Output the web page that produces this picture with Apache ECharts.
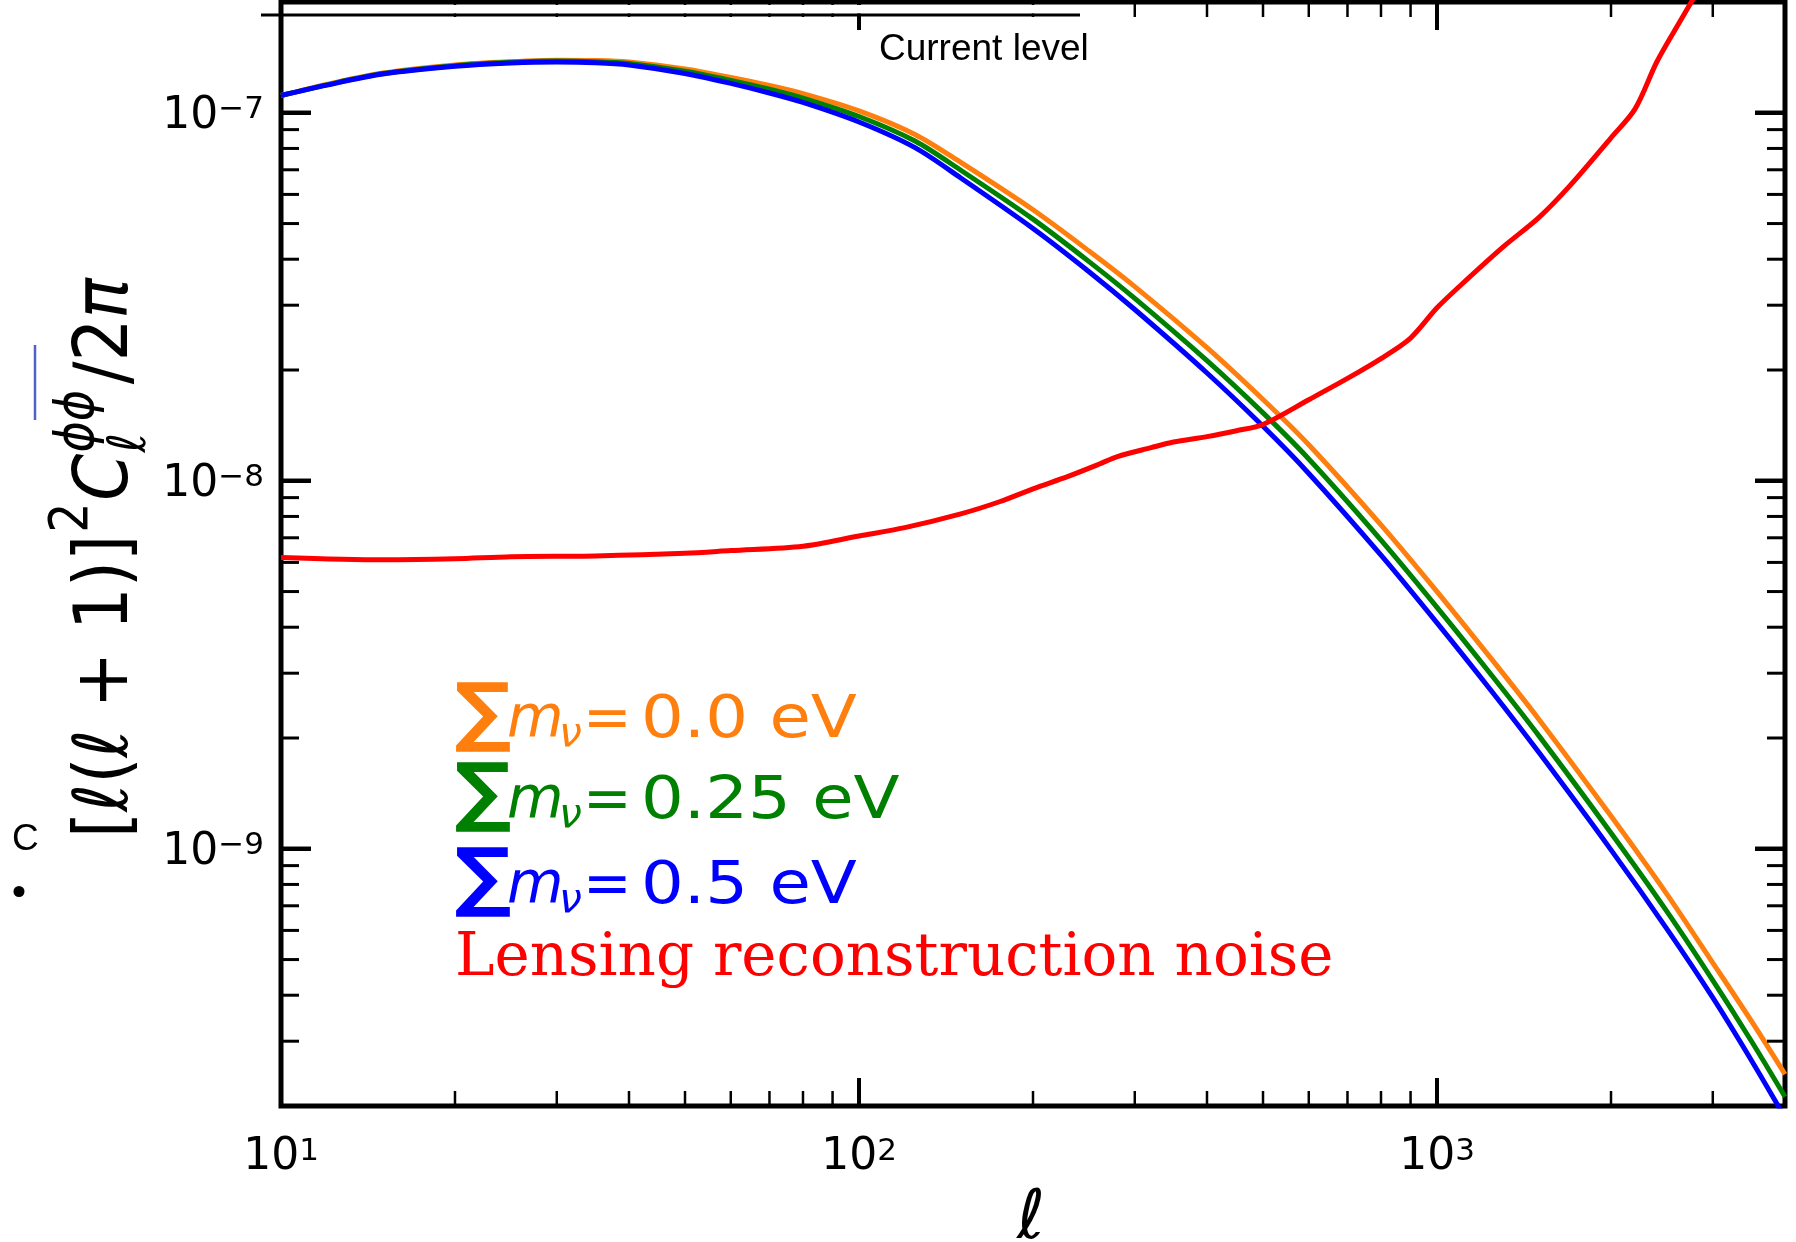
<!DOCTYPE html>
<html>
<head>
<meta charset="utf-8">
<title>Lensing potential power spectrum</title>
<script src="https://cdn.jsdelivr.net/npm/echarts@6.0.0/dist/echarts.min.js"></script>
<style>
  html, body { margin: 0; padding: 0; background: #fff; }
  #chart { width: 1796px; height: 1242px; }
</style>
</head>
<body>
<div id="chart"></div>
<script>
// multipoles shared by the three neutrino-mass spectra
const ells = [10, 12, 15, 20, 25, 30, 35, 40, 50, 60, 70, 80, 100, 125, 150, 200, 250, 300, 400, 500, 600, 800, 1000, 1250, 1500, 2000, 2500, 3000, 3500, 4000];
// [l(l+1)]^2 C_l^phiphi / 2pi
const clMass00 = [1.114e-7, 1.194e-7, 1.282e-7, 1.349e-7, 1.377e-7, 1.390e-7, 1.387e-7, 1.374e-7, 1.315e-7, 1.247e-7, 1.186e-7, 1.127e-7, 1.012e-7, 8.73e-8, 7.33e-8, 5.45e-8, 4.21e-8, 3.37e-8, 2.30e-8, 1.663e-8, 1.253e-8, 7.59e-9, 5.00e-9, 3.24e-9, 2.25e-9, 1.227e-9, 7.52e-10, 4.90e-10, 3.40e-10, 2.44e-10];
const clMass025 = [1.114e-7, 1.191e-7, 1.278e-7, 1.343e-7, 1.371e-7, 1.382e-7, 1.377e-7, 1.361e-7, 1.297e-7, 1.225e-7, 1.159e-7, 1.096e-7, 9.77e-8, 8.38e-8, 6.98e-8, 5.14e-8, 3.94e-8, 3.13e-8, 2.12e-8, 1.529e-8, 1.146e-8, 6.90e-9, 4.53e-9, 2.93e-9, 2.03e-9, 1.104e-9, 6.75e-10, 4.39e-10, 3.00e-10, 2.12e-10];
const clMass05 = [1.114e-7, 1.189e-7, 1.274e-7, 1.337e-7, 1.365e-7, 1.374e-7, 1.368e-7, 1.349e-7, 1.279e-7, 1.202e-7, 1.132e-7, 1.067e-7, 9.44e-8, 8.04e-8, 6.65e-8, 4.85e-8, 3.70e-8, 2.92e-8, 1.963e-8, 1.406e-8, 1.047e-8, 6.28e-9, 4.11e-9, 2.65e-9, 1.828e-9, 9.93e-10, 6.05e-10, 3.94e-10, 2.66e-10, 1.86e-10];

// lensing reconstruction noise
const noiseElls = [10, 15, 20, 25, 35, 50, 60, 80, 100, 120, 150, 175, 200, 230, 260, 280, 320, 350, 400, 450, 500, 600, 700, 800, 900, 1000, 1100, 1300, 1500, 1700, 2000, 2200, 2400, 2600, 2800];
const noiseCl = [6.19e-9, 6.10e-9, 6.14e-9, 6.22e-9, 6.25e-9, 6.35e-9, 6.46e-9, 6.64e-9, 7.08e-9, 7.46e-9, 8.13e-9, 8.77e-9, 9.51e-9, 1.028e-8, 1.109e-8, 1.164e-8, 1.230e-8, 1.274e-8, 1.318e-8, 1.368e-8, 1.422e-8, 1.660e-8, 1.897e-8, 2.148e-8, 2.443e-8, 2.951e-8, 3.404e-8, 4.315e-8, 5.19e-8, 6.35e-8, 8.55e-8, 1.023e-7, 1.374e-7, 1.714e-7, 2.09e-7];

// axes
const xRange = [10, 4000];
const yRange = [2e-10, 2e-7];
const xMajorTicks = [10, 100, 1000];
const xMinorTicks = [20, 30, 40, 50, 60, 70, 80, 90, 200, 300, 400, 500, 600, 700, 800, 900, 2000, 3000];
const yMajorTicks = [1e-9, 1e-8, 1e-7];
const yMinorTicks = [3e-10, 4e-10, 5e-10, 6e-10, 7e-10, 8e-10, 9e-10, 2e-9, 3e-9, 4e-9, 5e-9, 6e-9, 7e-9, 8e-9, 9e-9, 2e-8, 3e-8, 4e-8, 5e-8, 6e-8, 7e-8, 8e-8, 9e-8];

const legendValues = ['0.0 eV', '0.25 eV', '0.5 eV'];
const colors = { m00: '#ff7f0e', m025: '#008000', m05: '#0000ff', noise: '#ff0000' };

// ---- text helpers (measure glyphs so sub/superscripts sit on the right baseline)
const mctx = document.createElement('canvas').getContext('2d');
function cssFont(size, family, italic, weight) {
  return (italic ? 'italic ' : 'normal ') + (weight || 'normal') + ' ' + size + 'px "' + family + '"';
}
function baseShift(font) {
  mctx.font = font;
  mctx.textBaseline = 'middle';
  return mctx.measureText('H').actualBoundingBoxDescent;
}
function textWidth(text, font) {
  mctx.font = font;
  mctx.textBaseline = 'alphabetic';
  return mctx.measureText(text).width;
}
function textEl(text, x, baseline, font, color, align) {
  return {
    type: 'text', x: x, y: baseline - baseShift(font), silent: true,
    style: { text: text, font: font, fill: color, align: align || 'left', verticalAlign: 'middle' }
  };
}
// lays out a run of pieces along a baseline, returns children and advance
function mathRun(parts, color) {
  const kids = [];
  let cursor = 0;
  const marks = {};
  parts.forEach((p) => {
    const font = cssFont(p.size, p.family || 'DejaVu Sans', p.italic, p.weight);
    const px = p.at != null ? marks[p.at] : cursor + (p.gap || 0);
    if (p.mark) marks[p.mark] = px;
    kids.push(textEl(p.t, px, p.dy || 0, font, p.color || color));
    const end = px + textWidth(p.t, font);
    cursor = p.keep ? Math.max(cursor, end) : end;
  });
  return { kids: kids, width: cursor };
}
// big summation sign fitted into a box
function fitGlyph(text, family, weight, left, top, w, h, color) {
  mctx.font = cssFont(100, family, false, weight);
  mctx.textBaseline = 'alphabetic';
  const m = mctx.measureText(text);
  const gh = m.actualBoundingBoxAscent + m.actualBoundingBoxDescent;
  const gw = m.actualBoundingBoxLeft + m.actualBoundingBoxRight;
  const k = h / gh;
  const font = cssFont(100 * k, family, false, weight);
  return {
    type: 'group', x: left, y: top + m.actualBoundingBoxAscent * k, scaleX: w / (gw * k), silent: true,
    children: [textEl(text, m.actualBoundingBoxLeft * k, 0, font, color)]
  };
}

function legendRow(value, color, baseline, sigmaTop) {
  const F = 58;
  const x0 = 456;
  return [
    fitGlyph('\u2211', 'DejaVu Sans', 'bold', x0, sigmaTop, 54, 70, color),
    { type: 'group', x: x0, y: baseline, silent: true, children: [
      textEl('m', 51, 0, cssFont(F, 'DejaVu Sans', true), color),
      textEl('\u03bd', 103, 9, cssFont(Math.round(F * 0.7), 'DejaVu Sans', true), color),
      textEl('=', 127, 0, cssFont(F, 'DejaVu Sans'), color)
    ] },
    // the value text is slightly wider in the figure than the font's natural width
    { type: 'group', x: x0 + 185, y: baseline, scaleX: 1.16, silent: true, children: [
      textEl(value, 0, 0, cssFont(F, 'DejaVu Sans'), color)
    ] }
  ];
}

// y-axis title, rotated, length fitted to the figure
function yTitle() {
  const F = 75;
  const s = Math.round(F * 0.7);
  const run = mathRun([
    { t: '[', size: F },
    { t: '\u2113', size: F, italic: true },
    { t: '(', size: F },
    { t: '\u2113', size: F, italic: true },
    { t: ' + 1)]', size: F },
    { t: '2', size: s, dy: -0.52 * F, gap: 2 },
    { t: 'C', size: F, italic: true, gap: 2 },
    { t: '\u03d5\u03d5', size: s, italic: true, dy: -0.46 * F, mark: 'sp', gap: 1 },
    { t: '\u2113', size: s, italic: true, dy: 0.24 * F, at: 'sp', keep: true },
    { t: '/2', size: F, gap: 6 },
    { t: '\u03c0', size: F, italic: true }
  ], '#000');
  const targetLen = 560;
  return {
    type: 'group', x: 127, y: 838, rotation: Math.PI / 2, scaleX: targetLen / run.width,
    children: run.kids, silent: true
  };
}

function powLabel(v) {
  const lg = Math.log10(v);
  const e = Math.round(lg);
  if (Math.abs(lg - e) > 1e-6) return '';
  return '{b|10}{s|' + String(e).replace('-', '\u2212') + '}';
}
const labelRich = {
  b: { fontSize: 44, lineHeight: 44, fontFamily: 'DejaVu Sans', color: '#000' },
  s: { fontSize: 31, lineHeight: 31, fontFamily: 'DejaVu Sans', color: '#000', verticalAlign: 'top' }
};

// inward ticks on both sides of the frame, placed through the axis scale
function tickSeries(values, dir, len, width) {
  return {
    type: 'custom',
    coordinateSystem: 'cartesian2d',
    silent: true,
    clip: false,
    z: 5,
    data: values.map((v) => (dir === 'x' ? [v, yRange[0]] : [xRange[0], v])),
    renderItem: (params, api) => {
      const cs = params.coordSys;
      const p = api.coord([api.value(0), api.value(1)]);
      const st = { stroke: '#000', lineWidth: width };
      if (dir === 'x') {
        const b = cs.y + cs.height;
        return { type: 'group', children: [
          { type: 'line', shape: { x1: p[0], y1: b, x2: p[0], y2: b - len }, style: st },
          { type: 'line', shape: { x1: p[0], y1: cs.y, x2: p[0], y2: cs.y + len }, style: st }
        ] };
      }
      const r = cs.x + cs.width;
      return { type: 'group', children: [
        { type: 'line', shape: { x1: cs.x, y1: p[1], x2: cs.x + len, y2: p[1] }, style: st },
        { type: 'line', shape: { x1: r, y1: p[1], x2: r - len, y2: p[1] }, style: st }
      ] };
    }
  };
}

function lineSeries(name, xs, ys, color) {
  return {
    name: name,
    type: 'line',
    data: xs.map((x, i) => [x, ys[i]]),
    showSymbol: false,
    symbol: 'none',
    smooth: 0.3,
    clip: true,
    z: 3,
    lineStyle: { color: color, width: 5 },
    emphasis: { disabled: true }
  };
}

const chart = echarts.init(document.getElementById('chart'), null, { renderer: 'canvas' });

const graphics = [];
// legend-like labels
graphics.push(...legendRow(legendValues[0], colors.m00, 737, 682));
graphics.push(...legendRow(legendValues[1], colors.m025, 818, 762));
graphics.push(...legendRow(legendValues[2], colors.m05, 903, 847));
graphics.push(textEl('Lensing reconstruction noise', 455, 975, cssFont(59.5, 'DejaVu Serif'), colors.noise));
// axis titles
graphics.push(yTitle());
graphics.push(textEl('\u2113', 1031, 1238, cssFont(68, 'DejaVu Sans', true), '#000', 'center'));
// "Current level" marker pasted over the top axis
graphics.push({ type: 'rect', shape: { x: 284, y: 5, width: 796, height: 8.5 }, style: { fill: '#fff' }, z: 100, silent: true });
graphics.push({ type: 'line', shape: { x1: 261, y1: 15, x2: 1080, y2: 15 }, style: { stroke: '#000', lineWidth: 3 }, z: 101, silent: true });
graphics.push(Object.assign(textEl('Current level', 879, 60, cssFont(37, 'Liberation Sans'), '#000'), { z: 101 }));
// stray slide marks on the left edge
graphics.push(textEl('C', 12, 850, cssFont(37, 'Liberation Sans'), '#000'));
graphics.push({ type: 'circle', shape: { cx: 19, cy: 891.5, r: 5.5 }, style: { fill: '#000' }, silent: true });
graphics.push({ type: 'line', shape: { x1: 35, y1: 345, x2: 35, y2: 420 }, style: { stroke: '#3344bb', lineWidth: 2.5, opacity: 0.85 }, silent: true });

chart.setOption({
  animation: false,
  backgroundColor: '#ffffff',
  grid: {
    left: 281, right: 11, top: 2, bottom: 136,
    show: true, borderColor: '#000', borderWidth: 5,
    containLabel: false, outerBoundsMode: 'none'
  },
  xAxis: {
    type: 'log', logBase: 10, min: xRange[0], max: xRange[1],
    axisLine: { show: false }, axisTick: { show: false }, splitLine: { show: false },
    axisLabel: { formatter: powLabel, rich: labelRich, margin: 30, showMinLabel: true, showMaxLabel: false, hideOverlap: false }
  },
  yAxis: {
    type: 'log', logBase: 10, min: yRange[0], max: yRange[1],
    axisLine: { show: false }, axisTick: { show: false }, splitLine: { show: false },
    axisLabel: { formatter: powLabel, rich: labelRich, margin: 17, padding: [7, 0, 0, 0], showMinLabel: false, showMaxLabel: false, hideOverlap: false }
  },
  series: [
    lineSeries('\u2211m\u03bd = 0.0 eV', ells, clMass00, colors.m00),
    lineSeries('\u2211m\u03bd = 0.25 eV', ells, clMass025, colors.m025),
    lineSeries('\u2211m\u03bd = 0.5 eV', ells, clMass05, colors.m05),
    lineSeries('Lensing reconstruction noise', noiseElls, noiseCl, colors.noise),
    tickSeries(xMajorTicks, 'x', 28, 4),
    tickSeries(xMinorTicks, 'x', 15, 2.5),
    tickSeries(yMajorTicks, 'y', 30, 4.5),
    tickSeries(yMinorTicks, 'y', 18, 3)
  ],
  graphic: { elements: graphics }
});
</script>
</body>
</html>
